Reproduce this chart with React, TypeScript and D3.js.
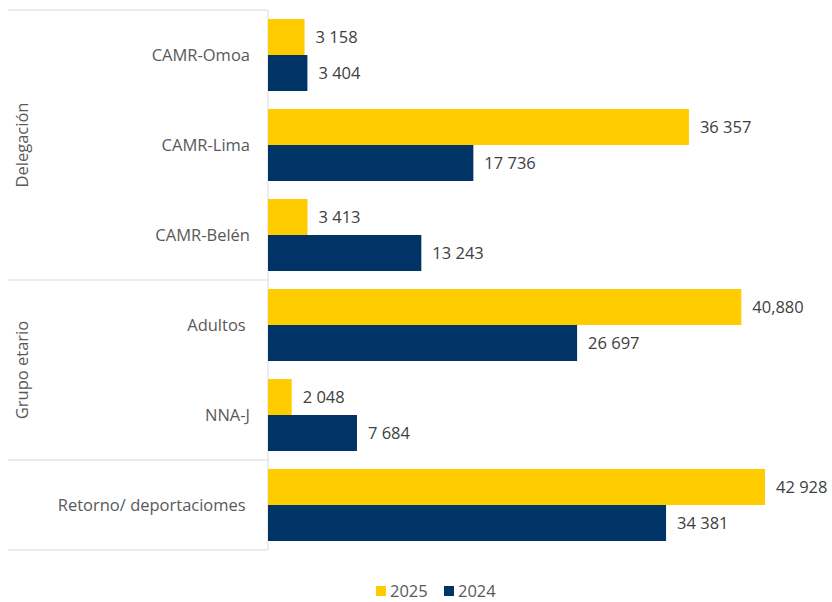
import React from "react";
import * as d3 from "d3";

const categories = ["CAMR-Omoa", "CAMR-Lima", "CAMR-Belén", "Adultos ", "NNA-J", "Retorno/ deportaciomes "];
const values2025 = [3158, 36357, 3413, 40880, 2048, 42928];
const values2024 = [3404, 17736, 13243, 26697, 7684, 34381];
const labels2025 = ["3 158", "36 357", "3 413", "40,880", "2 048", "42 928"];
const labels2024 = ["3 404", "17 736", "13 243", "26 697", "7 684", "34 381"];
const groups = [
  { name: "Delegación", start: 0, end: 2 },
  { name: "Grupo etario", start: 3, end: 4 },
  { name: "", start: 5, end: 5 },
];
const seriesNames = ["2025", "2024"];
const colors = ["#FFCC00", "#003366"];

export default function App() {
  const W = 832, H = 602;
  const axisX = 268;
  const top = 10, bottom = 550;
  const font = "'Open Sans', sans-serif";
  const fs = 16.5;

  const y = d3.scaleBand<string>().domain(categories).range([top, bottom]).paddingInner(0.2).paddingOuter(0.1);
  const step = y.step();
  const ySub = d3.scaleBand<string>().domain(seriesNames).range([0, y.bandwidth()]);
  const x = d3.scaleLinear().domain([0, 45000]).range([axisX, axisX + 521]);

  const seriesVals = [values2025, values2024];
  const seriesLabels = [labels2025, labels2024];

  const bandStart = (i: number) => top + i * step;

  return (
    <svg width={W} height={H} style={{ position: "absolute", left: 0, top: 0, background: "#fff" }}>
      {[0, ...groups.map((g) => g.end + 1)].map((i, k) => (
        <line key={"sep" + k} x1={8} x2={axisX} y1={bandStart(i)} y2={bandStart(i)} stroke="#d9d9d9" strokeWidth={1} />
      ))}
      <line x1={axisX} x2={axisX} y1={top} y2={bottom} stroke="#d9d9d9" strokeWidth={1} />

      {seriesNames.map((s, si) =>
        categories.map((c, ci) => {
          const yy = (y(c) as number) + (ySub(s) as number);
          const v = seriesVals[si][ci];
          return (
            <g key={s + c}>
              <rect x={x(0)} y={yy} width={x(v) - x(0)} height={ySub.bandwidth()} fill={colors[si]} />
              <text x={x(v) + 11} y={yy + ySub.bandwidth() / 2} dy="0.35em" fontFamily={font} fontSize={fs} fill="#404040">
                {seriesLabels[si][ci]}
              </text>
            </g>
          );
        })
      )}

      {categories.map((c) => (
        <text key={c} x={250} y={(y(c) as number) + y.bandwidth() / 2} dy="0.35em" textAnchor="end" fontFamily={font} fontSize={fs} fill="#595959" style={{ whiteSpace: "pre" }}>
          {c}
        </text>
      ))}

      {groups.filter((g) => g.name).map((g) => {
        const cy = (bandStart(g.start) + bandStart(g.end + 1)) / 2;
        return (
          <text key={g.name} transform={`translate(22,${cy}) rotate(-90)`} dy="0.35em" textAnchor="middle" fontFamily={font} fontSize={fs} fill="#595959">
            {g.name}
          </text>
        );
      })}

      {seriesNames.map((s, si) => {
        const lx = 376 + si * 68;
        return (
          <g key={"leg" + s}>
            <rect x={lx} y={586} width={10} height={10} fill={colors[si]} />
            <text x={lx + 14} y={591} dy="0.35em" fontFamily={font} fontSize={fs} fill="#595959">{s}</text>
          </g>
        );
      })}
    </svg>
  );
}
